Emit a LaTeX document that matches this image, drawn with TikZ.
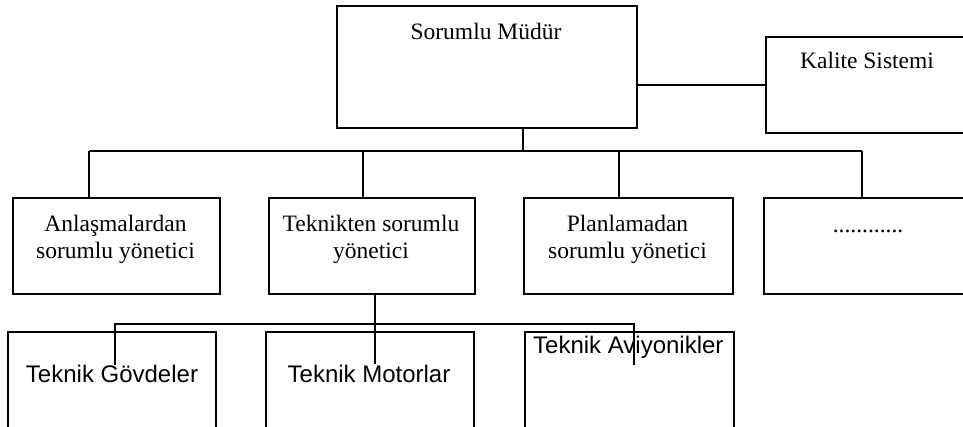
\documentclass[tikz,border=0pt]{standalone}
\usepackage{fontspec}
\setmainfont{Liberation Serif}
\newfontfamily\arialf{Liberation Sans}
\begin{document}
\begin{tikzpicture}[x=1pt,y=-1pt,
  box/.style={draw=black, line width=1.7pt, rectangle, inner sep=0pt, anchor=north west},
  conn/.style={draw=black, line width=1.7pt},
  serif/.style={font=\fontsize{23.5}{27}\selectfont, inner sep=0pt, align=center, anchor=base},
  sans/.style={font=\arialf\fontsize{24}{28}\selectfont, inner sep=0pt, anchor=base}]
\useasboundingbox (0,0) rectangle (963,426);
% top
\node[box, minimum width=300pt, minimum height=122pt] (top) at (336,5) {};
\node[box, minimum width=207pt, minimum height=96pt] (kal) at (765,36) {};
% row 2
\node[box, minimum width=207pt, minimum height=96pt] (r1) at (12,197) {};
\node[box, minimum width=206pt, minimum height=96pt] (r2) at (268,197) {};
\node[box, minimum width=209pt, minimum height=96pt] (r3) at (523,197) {};
\node[box, minimum width=209pt, minimum height=96pt] (r4) at (763,197) {};
% row 3
\node[box, minimum width=208pt, minimum height=110pt] (b1) at (7,331) {};
\node[box, minimum width=208pt, minimum height=110pt] (b2) at (265,331) {};
\node[box, minimum width=209pt, minimum height=110pt] (b3) at (524,331) {};
% texts
\node[serif] (ttop) at (486,39) {Sorumlu Müdür};
\node[serif] (tkal) at (867,68) {Kalite Sistemi};
\node[serif] (tr1) at (115.5,258) {Anlaşmalardan\\sorumlu yönetici};
\node[serif] (tr2) at (371,258) {Teknikten sorumlu\\yönetici};
\node[serif] (tr3) at (627.5,258) {Planlamadan\\sorumlu yönetici};
\node[serif] (tr4) at (868,232) {............};
\node[sans] (tb1) at (112,382) {Teknik Gövdeler};
\node[sans] (tb2) at (369,382) {Teknik Motorlar};
\node[sans, anchor=base west] (tb3) at (533,353) {Teknik Aviyonikler};
% connectors
\draw[conn] (kal.west) -- (kal.west -| top.east);
\coordinate (bus1) at (523,151);
\coordinate (busL) at (89,151);
\coordinate (busR) at (862,151);
\draw[conn] (top.south -| bus1) -- (bus1);
\draw[conn] (busL) -- (busR);
\draw[conn] (busL) -- (busL |- r1.north);
\draw[conn] (363,151) -- (363,197 |- r2.north);
\draw[conn] (619,151) -- (619,197 |- r3.north);
\draw[conn] (busR) -- (busR |- r4.north);
% lower connectors
\coordinate (dL) at (115,324);
\coordinate (dR) at (634,324);
\coordinate (dM) at (375,364);
\draw[conn] (r2.south -| dM) -- (dM);
\draw[conn] (115,365) -- (dL) -- (dR) -- (634,365);
\end{tikzpicture}
\end{document}
